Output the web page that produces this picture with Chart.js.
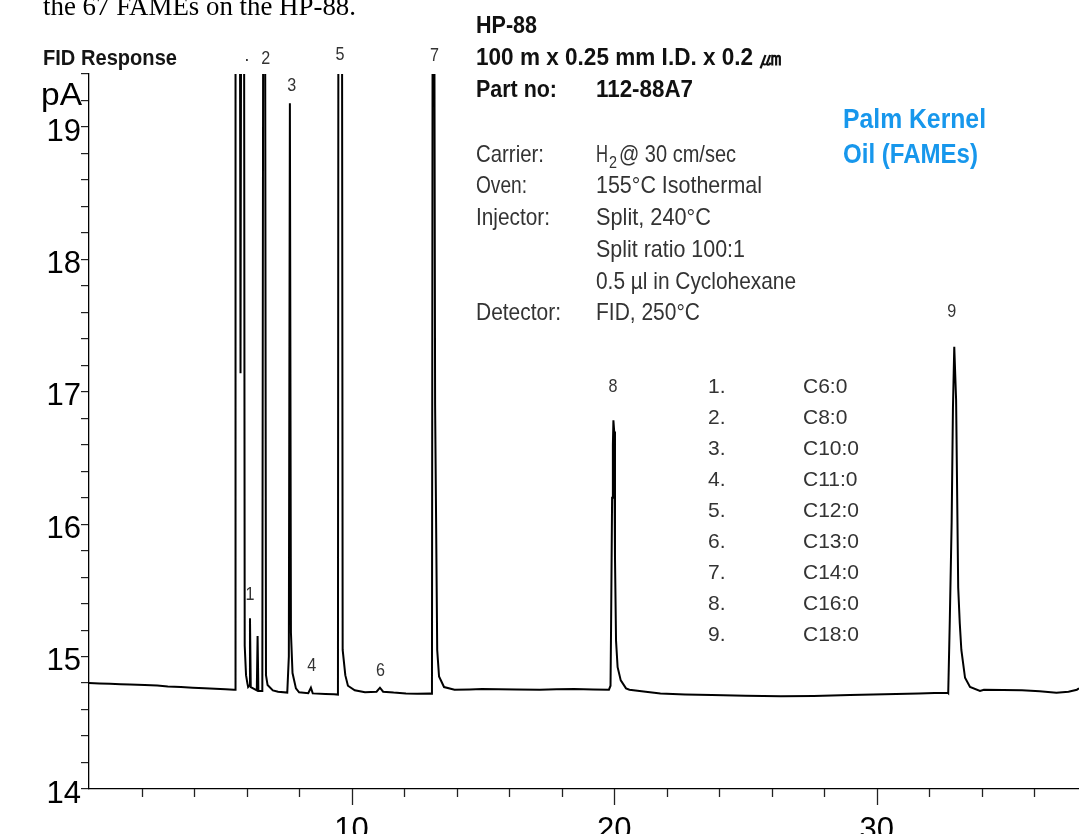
<!DOCTYPE html>
<html>
<head>
<meta charset="utf-8">
<title>HP-88 Palm Kernel Oil FAMEs</title>
<script src="https://cdn.jsdelivr.net/npm/chart.js@4.4.1/dist/chart.umd.min.js"></script>
<style>
  html, body { margin: 0; padding: 0; background: #fff; }
  #wrap { position: relative; width: 1079px; height: 834px; }
</style>
</head>
<body>
<div id="wrap"><canvas id="fidChart"></canvas></div>
<script>
// retention time (min) and detector signal (pA)
const timeMin = [
  0.00, 0.40, 0.80, 1.20, 1.56, 2.12, 2.60, 3.00, 3.50, 3.95, 4.40, 4.80, 5.20, 5.52, 5.56,
  5.58, 5.74, 5.77, 5.80, 5.90, 5.93, 5.98, 6.03, 6.06,
  6.10, 6.13, 6.16, 6.39, 6.42, 6.45, 6.60,
  6.64, 6.70, 6.74, 6.80, 7.00, 7.20,
  7.55, 7.61, 7.65, 7.69, 7.75, 7.88, 8.00,
  8.35, 8.45, 8.52, 9.00, 9.33, 9.48,
  9.50, 9.63, 9.66, 9.76, 9.86, 10.12, 10.51,
  10.95, 11.08, 11.20, 11.60, 12.07, 12.50, 12.98, 13.06,
  13.09, 13.14, 13.18, 13.26, 13.33, 13.52, 13.92,
  14.50, 14.97, 15.60, 16.28, 17.17, 17.80, 18.47, 19.20, 19.80,
  19.86, 19.88, 19.92, 19.95, 19.97, 20.00, 20.03, 20.07, 20.13, 20.25, 20.45, 20.58,
  21.20, 21.76, 22.70, 23.72, 25.00, 26.35, 27.60, 28.98, 30.30, 31.60, 32.20, 32.71,
  32.72, 32.78, 32.85, 32.90, 32.95, 33.02, 33.10, 33.16, 33.22, 33.36, 33.55, 33.93, 34.08,
  34.80, 35.53, 36.20, 36.84, 37.30, 37.62, 37.70
];
const responsePA = [
  14.800, 14.797, 14.795, 14.792, 14.790, 14.785, 14.781, 14.775, 14.770, 14.765, 14.761, 14.757, 14.753, 14.750, 14.750,
  21.0, 21.0, 17.14, 21.0, 21.0, 15.08, 14.86, 14.80, 14.77,
  14.78, 15.29, 14.77, 14.745, 15.155, 14.74, 14.74,
  21.0, 21.0, 14.86, 14.785, 14.745, 14.735,
  14.728, 15.00, 19.18, 15.18, 14.876, 14.76, 14.73,
  14.724, 14.765, 14.722, 14.718, 14.715, 14.713,
  21.0, 21.0, 15.05, 14.86, 14.78, 14.745, 14.73,
  14.735, 14.765, 14.735, 14.728, 14.722, 14.720, 14.722, 14.72,
  21.0, 21.0, 16.90, 15.05, 14.85, 14.77, 14.75,
  14.752, 14.755, 14.753, 14.752, 14.750, 14.753, 14.755, 14.752, 14.750,
  14.78, 15.20, 16.20, 16.60, 16.785, 16.70, 15.75, 15.12, 14.92, 14.82, 14.76, 14.75,
  14.735, 14.722, 14.714, 14.709, 14.704, 14.700, 14.703, 14.709, 14.716, 14.722, 14.725, 14.727,
  14.725, 15.275, 16.01, 16.88, 17.34, 16.94, 15.52, 15.25, 15.05, 14.84, 14.77, 14.74, 14.75,
  14.748, 14.745, 14.738, 14.727, 14.735, 14.750, 14.760
];

// peak identification
const peakNumbers = ['1.', '2.', '3.', '4.', '5.', '6.', '7.', '8.', '9.'];
const fameNames = ['C6:0', 'C8:0', 'C10:0', 'C11:0', 'C12:0', 'C13:0', 'C14:0', 'C16:0', 'C18:0'];

const yTickLabels = ['14', '15', '16', '17', '18', '19'];
const xTickLabels = ['10', '20', '30'];

// where each peak number sits (time, pA)
const labelTimes = [6.13, 6.73, 7.72, 8.48, 9.56, 11.10, 13.16, 19.95, 32.85];
const labelLevels = [15.465, 19.516, 19.309, 14.932, 19.547, 14.895, 19.541, 17.037, 17.603];

const SANS = '"Liberation Sans", Arial, sans-serif';
Chart.defaults.font.family = SANS;

// draw text squeezed/stretched to a given width
function fitText(ctx, text, x, y, font, width, color) {
  ctx.font = font;
  ctx.fillStyle = color;
  ctx.textAlign = 'left';
  ctx.textBaseline = 'alphabetic';
  const w = ctx.measureText(text).width;
  ctx.save();
  ctx.translate(x, y);
  ctx.scale(width ? width / w : 1, 1);
  ctx.fillText(text, 0, 0);
  ctx.restore();
}

function centeredText(ctx, text, x, y, font, sx, color) {
  ctx.font = font;
  ctx.fillStyle = color;
  ctx.textAlign = 'center';
  ctx.textBaseline = 'middle';
  ctx.save();
  ctx.translate(x, y);
  ctx.scale(sx, 1);
  ctx.fillText(text, 0, 0);
  ctx.restore();
}

const annotate = {
  id: 'annotate',
  afterDraw(chart) {
    const ctx = chart.ctx;
    const xs = chart.scales.x;
    const ys = chart.scales.y;
    const bottom = chart.chartArea.bottom;

    // x tick marks: long every 10 min, short every 2
    ctx.save();
    ctx.strokeStyle = '#222';
    ctx.lineWidth = 1.3;
    for (let t = 2; t <= 36; t += 2) {
      const px = Math.round(xs.getPixelForValue(t)) + 0.5;
      const len = t % 10 === 0 ? 16 : 8;
      ctx.beginPath();
      ctx.moveTo(px, bottom);
      ctx.lineTo(px, bottom + len);
      ctx.stroke();
    }
    ctx.restore();

    // caption line running off the top
    fitText(ctx, 'the 67 FAMEs on the HP-88.', 43, 15, '27px "Liberation Serif", "Times New Roman", serif', 313, '#000');

    fitText(ctx, 'FID Response', 43, 65, 'bold 22px ' + SANS, 134, '#151515');
    fitText(ctx, 'pA', 41, 105, '31px ' + SANS, 41, '#000');

    // column details
    const bold = 'bold 23px ' + SANS;
    const reg = '24px ' + SANS;
    const dark = '#111';
    const grey = '#333';
    fitText(ctx, 'HP-88', 476, 33, bold, 61, dark);
    fitText(ctx, '100 m x 0.25 mm I.D. x 0.2 \u339B', 476, 65, bold, 306, dark);
    fitText(ctx, 'Part no:', 476, 97, bold, 81, dark);
    fitText(ctx, '112-88A7', 596, 97, bold, 97, dark);

    fitText(ctx, 'Carrier:', 476, 162, reg, 68, grey);
    fitText(ctx, 'H', 596, 162, reg, 12, grey);
    fitText(ctx, '2', 609, 168, '16px ' + SANS, 8, grey);
    fitText(ctx, '@ 30 cm/sec', 619, 162, reg, 117, grey);
    fitText(ctx, 'Oven:', 476, 193, reg, 51, grey);
    fitText(ctx, '155\u00B0C Isothermal', 596, 193, reg, 166, grey);
    fitText(ctx, 'Injector:', 476, 225, reg, 74, grey);
    fitText(ctx, 'Split, 240\u00B0C', 596, 225, reg, 115, grey);
    fitText(ctx, 'Split ratio 100:1', 596, 257, reg, 149, grey);
    fitText(ctx, '0.5 \u00B5l in Cyclohexane', 596, 289, reg, 200, grey);
    fitText(ctx, 'Detector:', 476, 320, reg, 85, grey);
    fitText(ctx, 'FID, 250\u00B0C', 596, 320, reg, 104, grey);

    // sample name
    const blue = '#1797ec';
    fitText(ctx, 'Palm Kernel', 843, 128, 'bold 28px ' + SANS, 143, blue);
    fitText(ctx, 'Oil (FAMEs)', 843, 163, 'bold 28px ' + SANS, 135, blue);

    // peak list
    peakNumbers.forEach((n, i) => {
      const y = 393 + i * 31;
      fitText(ctx, n, 708, y, '21px ' + SANS, 0, grey);
      fitText(ctx, fameNames[i], 803, y, '21px ' + SANS, 0, grey);
    });

    // peak numbers on the trace
    labelTimes.forEach((t, i) => {
      centeredText(ctx, String(i + 1), xs.getPixelForValue(t), ys.getPixelForValue(labelLevels[i]),
        '19px ' + SANS, 0.85, grey);
    });
    centeredText(ctx, '.', 247, 56, '19px ' + SANS, 1, grey);
  }
};

const ctx = document.getElementById('fidChart').getContext('2d');
const fidChart = new Chart(ctx, {
  type: 'line',
  data: {
    datasets: [{
      data: timeMin.map((t, i) => ({ x: t, y: responsePA[i] })),
      borderColor: '#000',
      borderWidth: 2,
      pointRadius: 0,
      tension: 0,
      fill: false
    }]
  },
  options: {
    responsive: true,
    maintainAspectRatio: false,
    animation: false,
    layout: { padding: { top: 74, left: 0, right: 0, bottom: 0 } },
    plugins: { legend: { display: false }, tooltip: { enabled: false } },
    scales: {
      x: {
        type: 'linear',
        min: 0,
        max: 37.7,
        // no side padding: the axis runs to the canvas edge
        afterFit: s => { s.height = 45; s.paddingRight = 0; s.paddingLeft = 0; },
        border: { color: '#000', width: 1.3 },
        grid: { drawOnChartArea: false, tickLength: 16, color: 'rgba(0,0,0,0)' },
        ticks: {
          stepSize: 10,
          autoSkip: false,
          maxRotation: 0,
          padding: 7,
          color: '#000',
          font: { size: 31 },
          callback: v => xTickLabels.includes(String(v)) ? String(v) : ''
        }
      },
      y: {
        min: 14,
        max: 19.4,
        afterFit: s => { s.width = 89; },
        border: { color: '#000', width: 1.3 },
        grid: { drawOnChartArea: false, tickLength: 8, color: '#222', lineWidth: 1.2 },
        ticks: {
          stepSize: 0.2,
          autoSkip: false,
          padding: 0,
          labelOffset: 5,
          color: '#000',
          font: { size: 31 },
          callback: v => {
            const r = Math.round(v);
            return Math.abs(v - r) < 1e-6 && yTickLabels.includes(String(r)) ? String(r) : '';
          }
        }
      }
    }
  },
  plugins: [annotate]
});
</script>
</body>
</html>
